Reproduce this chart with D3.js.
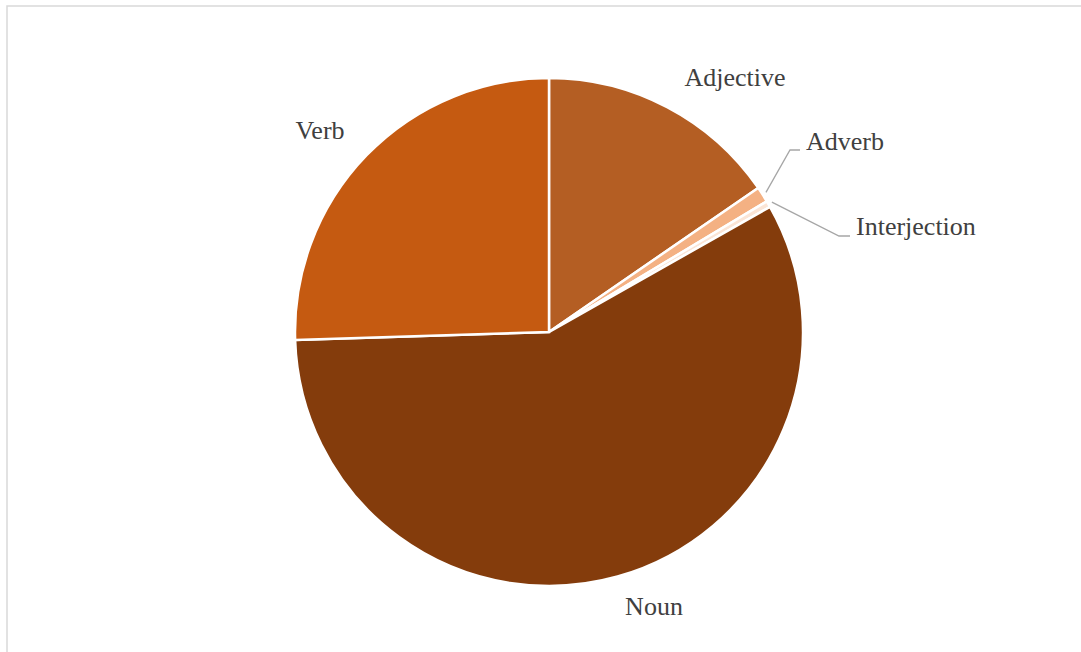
<!DOCTYPE html>
<html>
<head>
<meta charset="utf-8">
<script src="https://cdn.jsdelivr.net/npm/d3@7"></script>
<style>
  html, body { margin: 0; padding: 0; background: #ffffff; }
  svg { display: block; }
</style>
</head>
<body>
<svg id="chart" width="1081" height="652"></svg>
<script>
// Parts of speech and their share (%) of the word list
const categories = ["Adjective", "Adverb", "Interjection", "Noun", "Verb"];
const shares = [15.4, 1.0, 0.4, 57.7, 25.5];
const colors = ["#b45e23", "#f4b183", "#fbe5d6", "#843c0c", "#c55a11"];

const data = categories.map((c, i) => ({ name: c, value: shares[i], color: colors[i] }));

const svg = d3.select("#chart");
const W = 1081, H = 652;
const cx = 549, cy = 332, R = 254;

// chart area frame
svg.append("rect")
  .attr("x", 7).attr("y", 6)
  .attr("width", W + 20).attr("height", H + 20)
  .attr("fill", "#ffffff")
  .attr("stroke", "#d9d9d9")
  .attr("stroke-width", 1.5);

const pie = d3.pie().value(d => d.value).sort(null);
const arc = d3.arc().innerRadius(0).outerRadius(R);
const arcs = pie(data);

const g = svg.append("g").attr("transform", `translate(${cx},${cy})`);

g.selectAll("path.slice")
  .data(arcs)
  .join("path")
  .attr("class", "slice")
  .attr("d", arc)
  .attr("fill", d => d.data.color)
  .attr("stroke", "#ffffff")
  .attr("stroke-width", 2.5)
  .attr("stroke-linejoin", "miter");

// label placement (offsets relative to pie centre) and leader-line options
const labelLayout = {
  Adjective:    { x: 186,  y: -255, anchor: "middle", leader: false },
  Adverb:       { x: 257,  y: -191, anchor: "start",  leader: true, elbowX: 241, elbowY: -182 },
  Interjection: { x: 307,  y: -106, anchor: "start",  leader: true, elbowX: 290, elbowY: -96 },
  Noun:         { x: 105,  y: 274,  anchor: "middle", leader: false },
  Verb:         { x: -229, y: -202, anchor: "middle", leader: false }
};

const fontFamily = "'Liberation Serif', 'Times New Roman', serif";

// leader lines from the slice edge to the label
arcs.forEach(d => {
  const L = labelLayout[d.data.name];
  if (!L.leader) return;
  const mid = (d.startAngle + d.endAngle) / 2;
  const r0 = R + 4;
  const sx = r0 * Math.sin(mid), sy = -r0 * Math.cos(mid);
  g.append("polyline")
    .attr("points", `${sx},${sy} ${L.elbowX},${L.elbowY} ${L.x - 6},${L.elbowY}`)
    .attr("fill", "none")
    .attr("stroke", "#a6a6a6")
    .attr("stroke-width", 1.3);
});

g.selectAll("text.label")
  .data(arcs)
  .join("text")
  .attr("class", "label")
  .attr("x", d => labelLayout[d.data.name].x)
  .attr("y", d => labelLayout[d.data.name].y)
  .attr("dy", "0.35em")
  .attr("text-anchor", d => labelLayout[d.data.name].anchor)
  .attr("font-family", fontFamily)
  .attr("font-size", "26px")
  .attr("fill", "#404040")
  .text(d => d.data.name);
</script>
</body>
</html>
